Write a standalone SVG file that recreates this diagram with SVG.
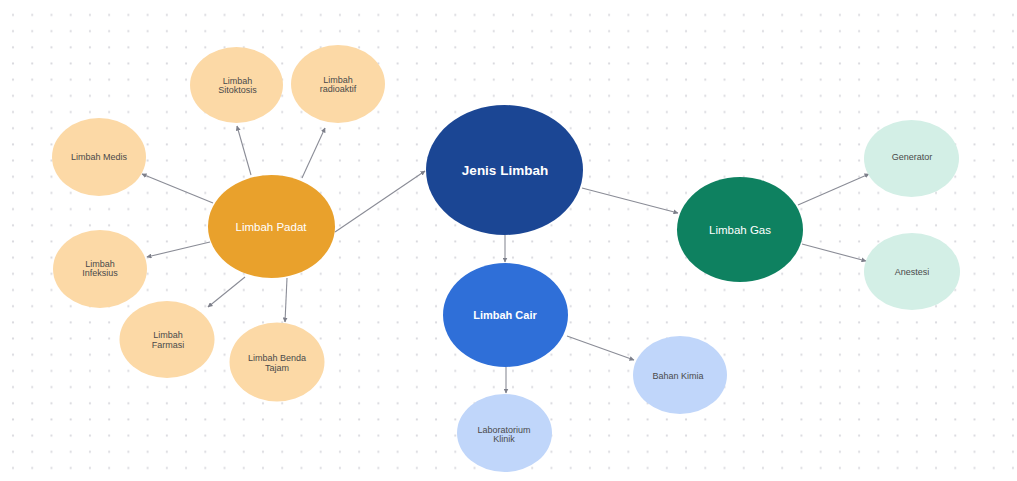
<svg xmlns="http://www.w3.org/2000/svg" width="1017" height="481" viewBox="0 0 1017 481">
<defs>
<pattern id="dots" patternUnits="userSpaceOnUse" x="3.385" y="6.91" width="19.23" height="16.18">
<circle cx="9.615" cy="8.09" r="1.1" fill="#d9d9de"/>
</pattern>
<marker id="arr" viewBox="0 0 10 10" refX="9" refY="5" markerWidth="5" markerHeight="5" markerUnits="userSpaceOnUse" orient="auto">
<path d="M0,0 L10,5 L0,10 z" fill="#7d7f8a"/>
</marker>
<style>
.lbl{font-family:"Liberation Sans",Arial,sans-serif;font-size:9px;fill:#4a4a4a;text-anchor:middle}
.wht{font-family:"Liberation Sans",Arial,sans-serif;fill:#ffffff;text-anchor:middle}
.peach{fill:#fcd9a6}
.lblue{fill:#c0d6fa}
.mint{fill:#d3efe6}
.con line{stroke:#8a8c96;stroke-width:1.1;marker-end:url(#arr)}
</style>
</defs>
<rect width="1017" height="481" fill="#ffffff"/>
<rect x="4" y="8" width="1013" height="467" fill="url(#dots)"/>

<g class="con" id="connectors">
<line x1="251" y1="175" x2="237" y2="126"/>
<line x1="302" y1="178" x2="325" y2="128"/>
<line x1="213" y1="203" x2="142" y2="174"/>
<line x1="335" y1="232" x2="425" y2="171"/>
<line x1="210" y1="242" x2="147" y2="257"/>
<line x1="245" y1="277" x2="208" y2="307"/>
<line x1="287" y1="278" x2="285" y2="322"/>
<line x1="505" y1="235" x2="505" y2="262"/>
<line x1="582" y1="188" x2="678" y2="213"/>
<line x1="567" y1="336" x2="634" y2="360"/>
<line x1="506" y1="367" x2="506" y2="393"/>
<line x1="798" y1="205" x2="869" y2="174"/>
<line x1="802" y1="244" x2="866" y2="261"/>
</g>

<g id="sitoktosis">
<ellipse class="peach" cx="236.5" cy="85" rx="46.5" ry="38"/>
<text class="lbl" x="237.5" y="83.5">Limbah</text>
<text class="lbl" x="237.5" y="92.5">Sitoktosis</text>
</g>
<g id="radioaktif">
<ellipse class="peach" cx="338" cy="84" rx="47" ry="39"/>
<text class="lbl" x="338" y="83">Limbah</text>
<text class="lbl" x="338" y="91.5">radioaktif</text>
</g>
<g id="medis">
<ellipse class="peach" cx="99" cy="157" rx="47" ry="39"/>
<text class="lbl" x="99" y="160">Limbah Medis</text>
</g>
<g id="infeksius">
<ellipse class="peach" cx="100" cy="269" rx="47" ry="39"/>
<text class="lbl" x="100" y="267">Limbah</text>
<text class="lbl" x="100" y="276">Infeksius</text>
</g>
<g id="farmasi">
<ellipse class="peach" cx="167" cy="339.5" rx="47.5" ry="38.5"/>
<text class="lbl" x="168" y="338">Limbah</text>
<text class="lbl" x="168" y="348">Farmasi</text>
</g>
<g id="benda-tajam">
<ellipse class="peach" cx="277" cy="362" rx="47.5" ry="39.5"/>
<text class="lbl" x="277" y="361">Limbah Benda</text>
<text class="lbl" x="277" y="371">Tajam</text>
</g>
<g id="padat">
<ellipse cx="271.5" cy="226.5" rx="63.5" ry="51.5" fill="#e9a12c"/>
<text class="wht" x="271" y="231" font-size="11.5">Limbah Padat</text>
</g>
<g id="jenis-limbah">
<ellipse cx="504.5" cy="170" rx="78.5" ry="65" fill="#1b4694"/>
<text class="wht" x="505" y="175" font-size="13.5" font-weight="bold">Jenis Limbah</text>
</g>
<g id="cair">
<ellipse cx="505.5" cy="315" rx="62.5" ry="52" fill="#2f6fd8"/>
<text class="wht" x="505" y="319" font-size="11" font-weight="bold">Limbah Cair</text>
</g>
<g id="bahan-kimia">
<ellipse class="lblue" cx="680" cy="375" rx="47" ry="39"/>
<text class="lbl" x="678" y="379">Bahan Kimia</text>
</g>
<g id="laboratorium">
<ellipse class="lblue" cx="504.5" cy="433" rx="47.5" ry="39"/>
<text class="lbl" x="504" y="433">Laboratorium</text>
<text class="lbl" x="504" y="441.5">Klinik</text>
</g>
<g id="gas">
<ellipse cx="740" cy="229.5" rx="63" ry="52.5" fill="#0e8160"/>
<text class="wht" x="740" y="234" font-size="11.5">Limbah Gas</text>
</g>
<g id="generator">
<ellipse class="mint" cx="911.5" cy="158.5" rx="47.5" ry="38.5"/>
<text class="lbl" x="912" y="160">Generator</text>
</g>
<g id="anestesi">
<ellipse class="mint" cx="912" cy="271.5" rx="48" ry="38.5"/>
<text class="lbl" x="912" y="275">Anestesi</text>
</g>
</svg>
